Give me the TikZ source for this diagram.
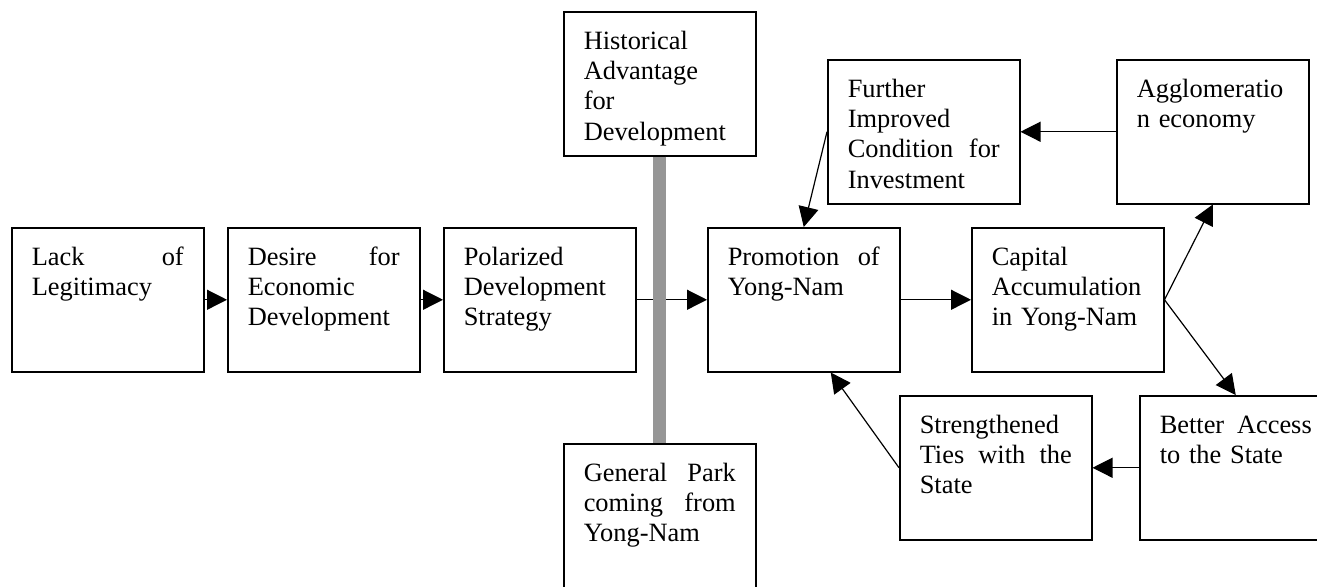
\documentclass[tikz,border=0pt]{standalone}
\usepackage{fontspec}
\setmainfont{Liberation Serif}
\usetikzlibrary{arrows.meta,calc}
\definecolor{barGray}{RGB}{150,150,150}
\tikzset{
  box/.style={draw=black, line width=0.75pt, rectangle, anchor=north west,
    text width=76pt, inner xsep=10pt, inner ysep=0pt, align=left,
    text height=18.65pt, text depth=53.35pt,
    font=\fontsize{13.2pt}{15.2pt}\selectfont},
  conn/.style={draw=black, line width=0.6pt, -{Triangle[length=10pt,width=10pt]}},
  plainline/.style={draw=black, line width=0.6pt},
  bar/.style={draw=barGray, line width=6.5pt, line cap=butt}
}
\begin{document}
\begin{tikzpicture}[x=0.5pt,y=-0.5pt]
\useasboundingbox (0,0) rectangle (1317,586);
\clip (0,0) rectangle (1317,586);
\node[box] (lack) at (11,227) {Lack\hfill of\\Legitimacy};
\node[box] (desire) at (227,227) {Desire\hfill for\\Economic\\Development};
\node[box] (polar) at (443,227) {Polarized\\Development\\Strategy};
\node[box] (hist) at (563,11) {Historical\\Advantage\\for\\Development};
\node[box] (general) at (563,443) {General\hfill Park\\coming\hfill from\\Yong-Nam};
\node[box] (promo) at (707,227) {Promotion\hfill of\\Yong-Nam};
\node[box] (capital) at (971,227) {Capital\\Accumulation\\in Yong-Nam};
\node[box] (further) at (827,59) {Further\\Improved\\Condition\hfill for\\Investment};
\node[box] (agglo) at (1116,59) {Agglomeratio\\n economy};
\node[box] (better) at (1139,395) {Better\hfill Access\\to the State};
\node[box] (strength) at (899,395) {Strengthened\\Ties\hfill with\hfill the\\State};
\coordinate (promoin) at ($(promo.south)+(27,0)$);

\draw[conn] (lack.east) -- (desire.west);
\draw[conn] (desire.east) -- (polar.west);
\draw[conn] (polar.east) -- (promo.west);
\draw[conn] (promo.east) -- (capital.west);
\draw[conn] (capital.east) -- (agglo.south);
\draw[conn] (capital.east) -- (better.north);
\draw[conn] (better.west) -- (strength.east);
\draw[conn] (strength.west) -- (promoin);
\draw[conn] (agglo.west) -- (further.east);
\draw[conn] (further.west) -- (promo.north);
\draw[bar] (hist.south) -- (general.north);
\end{tikzpicture}
\end{document}
